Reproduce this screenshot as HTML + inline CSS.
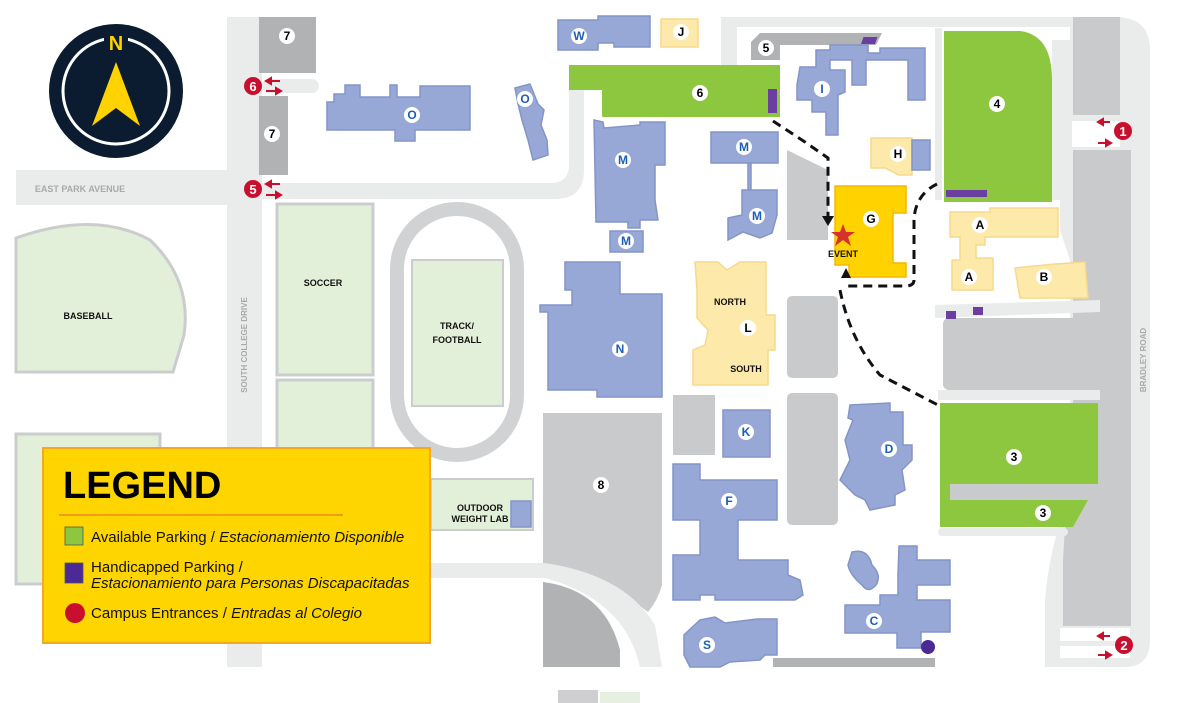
<!DOCTYPE html>
<html><head><meta charset="utf-8"><style>
html,body{margin:0;padding:0;background:#fff;}
svg{display:block;}
.lb{font-family:"Liberation Sans",sans-serif;font-weight:bold;font-size:12px;text-anchor:middle;}
.bl{fill:#1b5fb5;}
.bk{fill:#000;}
.t{font-family:"Liberation Sans",sans-serif;font-weight:bold;font-size:9px;text-anchor:middle;fill:#111;}
.b{fill:#97a8d6;stroke:#8394c8;stroke-width:1.5;}
.y{fill:#fde9aa;stroke:#f6d98a;stroke-width:1.5;}
.pg{fill:#e3f0d9;stroke:#cbcccd;stroke-width:3;}
.gl{fill:#8dc63f;}
.gr{fill:#c9cacc;}
.dg{fill:#b1b2b4;}
.rd{fill:#eaebeb;}
.hp{fill:#6b3fa0;}
</style></head><body>
<svg width="1197" height="703" viewBox="0 0 1197 703" xmlns="http://www.w3.org/2000/svg">
<!-- roads -->
<rect class="rd" x="16" y="170" width="215" height="35"/>
<rect class="rd" x="227" y="17" width="35" height="650"/>
<path class="rd" d="M262,183 L550,183 Q569,183 569,165 L569,90 L584,90 L584,170 Q584,199 555,199 L262,199 Z"/>
<path class="rd" d="M721,17 L1115,17 Q1150,17 1150,50 L1150,640 Q1150,667 1125,667 L1045,667 L1045,600 Q1050,540 1070,500 L1070,27 L737,27 L737,110 L721,110 Z"/>
<path class="rd" d="M1052,40 L1070,40 L1070,260 L1060,230 L1060,200 L1052,200 Z"/>
<rect class="gr" x="1073" y="17" width="47" height="98"/>
<rect x="1072" y="121" width="48" height="26" fill="#fff"/>
<rect class="gr" x="1073" y="150" width="58" height="290"/>
<path class="gr" d="M1075,440 L1131,440 L1131,626 L1063,626 L1063,560 Q1066,500 1075,440 Z"/>
<rect x="1060" y="628" width="70" height="30" fill="#fff"/>
<rect class="rd" x="1060" y="641" width="60" height="5"/>
<rect class="rd" x="935" y="28" width="7" height="172"/>
<path class="rd" d="M935,305 L1100,300 L1100,312 L935,318 Z"/>
<rect class="rd" x="938" y="390" width="162" height="10"/>
<rect class="rd" x="938" y="528" width="130" height="8" rx="4"/>
<!-- left fields -->
<path class="pg" d="M16,238 Q95,210 150,240 Q192,280 184,335 L173,372 L16,372 Z"/>
<rect class="pg" x="16" y="434" width="144" height="150"/>
<rect class="pg" x="277" y="204" width="96" height="171"/>
<rect class="pg" x="277" y="380" width="96" height="80"/>
<rect x="397" y="209" width="120" height="246" rx="60" fill="none" stroke="#d1d2d4" stroke-width="14"/>
<rect class="pg" x="412" y="260" width="91" height="146" style="stroke-width:2"/>
<rect class="pg" x="431" y="479" width="102" height="51" style="stroke-width:2"/>
<rect class="b" x="511" y="501" width="20" height="26"/>
<!-- lot 8 and lower -->
<path class="gr" d="M543,413 L662,413 L662,585 Q658,600 648,612 Q600,575 543,570 Z"/>
<path class="rd" d="M430,563 L545,563 Q625,575 655,625 L662,667 L640,667 Q625,600 545,578 L430,578 Z"/>
<path class="dg" d="M543,582 Q605,590 620,650 L620,667 L543,667 Z"/>
<!-- gray lots center -->
<path class="gr" d="M787,150 L828,170 L828,240 L787,240 Z"/>
<rect class="gr" x="787" y="296" width="51" height="82" rx="5"/>
<rect class="gr" x="787" y="393" width="51" height="132" rx="5"/>
<rect class="gr" x="673" y="395" width="42" height="60"/>
<rect class="gr" x="943" y="318" width="157" height="72" rx="6"/>
<rect x="773" y="658" width="162" height="9" class="dg"/>
<!-- lot 7 / 5 -->
<rect class="dg" x="259" y="17" width="57" height="56"/>
<rect class="rd" x="262" y="79" width="57" height="14" rx="7"/>
<rect class="dg" x="259" y="96" width="29" height="79"/>
<path class="dg" d="M760,33 L882,33 L876,45 L780,45 L780,60 L751,60 L751,42 Z"/>
<rect class="hp" x="863" y="37" width="14" height="7" transform="skewX(-20) translate(14,0)"/>
<!-- green lots -->
<path class="gl" d="M569,65 L780,65 L780,117 L602,117 L602,90 L569,90 Z"/>
<rect class="hp" x="768" y="89" width="9" height="24"/>
<path class="gl" d="M944,31 L1020,31 Q1052,35 1052,80 L1052,202 L944,202 Z"/>
<rect class="hp" x="946" y="190" width="41" height="7"/>
<path class="gl" d="M940,403 L1098,403 L1098,484 L950,484 L950,500 L1088,500 L1073,527 L940,527 Z"/>
<rect class="gr" x="950" y="484" width="138" height="16"/>
<rect class="hp" x="946" y="311" width="10" height="8"/>
<rect class="hp" x="973" y="307" width="10" height="8"/>
<!-- buildings -->
<path class="b" d="M558,20 L598,20 L598,16 L650,16 L650,47 L614,47 L614,43 L598,43 L598,50 L558,50 Z"/>
<rect class="y" x="661" y="19" width="37" height="28"/>
<path class="b" d="M327,102 L334,102 L334,94 L345,94 L345,85 L360,85 L360,97 L390,97 L390,85 L397,85 L397,97 L420,97 L420,86 L470,86 L470,130 L415,130 L415,141 L395,141 L395,130 L327,130 Z"/>
<path class="b" d="M515,88 L530,84 L538,104 L544,110 L541,125 L547,140 L548,155 L533,160 L528,140 L522,120 L518,104 Z"/>
<path class="b" d="M797,85 L800,67 L816,67 L816,50 L830,50 L830,45 L868,45 L868,53 L880,53 L880,48 L925,48 L925,100 L908,100 L908,60 L866,60 L866,85 L852,85 L852,60 L830,60 L830,70 L845,70 L845,92 L838,95 L838,135 L826,135 L826,112 L812,112 L812,100 L797,100 Z"/>
<path class="b" d="M594,120 L603,122 L604,128 L640,125 L640,122 L665,122 L665,165 L655,165 L655,200 L658,220 L640,220 L640,228 L628,228 L628,222 L596,222 Z"/>
<rect class="b" x="711" y="132" width="67" height="31"/>
<rect class="b" x="748" y="163" width="3" height="28"/>
<path class="b" d="M742,190 L777,190 L777,215 L772,233 L760,238 L743,232 L728,240 L728,218 L742,215 Z"/>
<rect class="b" x="610" y="231" width="33" height="21"/>
<path class="y" d="M871,138 L912,138 L912,175 L899,175 L885,168 L871,168 Z"/>
<rect class="b" x="912" y="140" width="18" height="30"/>
<path d="M835,186 L906,186 L906,213 L893,213 L893,263 L906,263 L906,277 L849,277 L849,265 L835,265 Z" fill="#ffd200" stroke="#f3b700" stroke-width="1.5"/>
<path class="y" d="M950,212 L990,212 L990,208 L1058,208 L1058,237 L985,237 L985,245 L976,245 L976,258 L993,258 L993,290 L952,290 L952,260 L960,260 L960,237 L950,237 Z"/>
<path class="y" d="M1015,268 L1055,264 L1085,262 L1088,298 L1020,298 Z"/>
<path class="b" d="M565,262 L620,262 L620,294 L662,294 L662,397 L597,397 L597,390 L548,390 L548,312 L540,312 L540,305 L572,305 L572,290 L565,290 Z"/>
<path class="y" d="M695,262 L718,262 L727,270 L740,262 L766,262 L766,315 L775,315 L775,350 L768,350 L768,385 L693,385 L693,350 L705,345 L708,330 L697,318 L697,290 Z"/>
<path class="b" d="M723,410 L770,410 L770,457 L723,457 Z"/>
<path class="b" d="M850,405 L890,403 L890,412 L903,412 L903,445 L912,445 L912,460 L902,470 L905,490 L895,495 L895,505 L870,510 L865,500 L855,495 L840,480 L850,460 L845,440 L853,420 L848,418 Z"/>
<path class="b" d="M673,464 L700,464 L700,480 L777,480 L777,520 L738,520 L738,560 L788,560 L788,575 L800,580 L803,595 L795,600 L715,600 L715,595 L700,595 L700,600 L673,600 L673,555 L700,555 L700,520 L673,520 Z"/>
<path class="b" d="M700,620 L715,617 L725,623 L757,619 L777,619 L777,655 L765,655 L760,660 L730,662 L720,667 L690,667 L684,655 L684,635 Z"/>
<path class="b" d="M899,546 L917,546 L917,560 L950,560 L950,585 L917,585 L917,600 L950,600 L950,632 L921,632 L921,648 L897,648 L897,633 L845,633 L845,605 L880,605 L880,595 L898,595 L898,575 Z"/>
<path class="b" d="M852,552 Q868,548 872,565 Q882,575 876,585 Q868,594 862,585 Q850,575 848,565 Z"/>
<circle cx="928" cy="647" r="7" fill="#4b2a96"/>
<!-- dashed paths -->
<g fill="none" stroke="#111" stroke-width="3" stroke-dasharray="9,6">
<path d="M773,121 L805,142 L828,158 L828,218"/>
<path d="M937,184 Q915,195 914,220 L914,280 Q914,286 905,286 L848,286"/>
<path d="M840,290 Q850,340 880,375 L938,405"/>
</g>
<path d="M822,216 L834,216 L828,226 Z" fill="#111"/>
<path d="M833,276 L843,276 L838,266 Z" fill="#111" transform="translate(8,2)"/>
<polygon points="843,224 846,232 855,232 848,237 851,246 843,240 835,246 838,237 831,232 840,232" fill="#d7312e"/>
<text x="843" y="257" class="t">EVENT</text>
<!-- compass -->
<circle cx="116" cy="91" r="67" fill="#0b1c30"/>
<circle cx="116" cy="91" r="53" fill="none" stroke="#fff" stroke-width="3"/>
<rect x="104" y="30" width="24" height="16" fill="#0b1c30"/>
<text x="116" y="50" font-family="Liberation Sans,sans-serif" font-weight="bold" font-size="20" fill="#ffd200" text-anchor="middle">N</text>
<polygon points="116,62 140,126 116,108 92,126" fill="#ffd200"/>
<!-- labels -->
<g>
<circle cx="287" cy="36" r="8" fill="#fff"/><text x="287" y="40" class="lb bk">7</text>
<circle cx="272" cy="134" r="8" fill="#fff"/><text x="272" y="138" class="lb bk">7</text>
<circle cx="766" cy="48" r="8" fill="#fff"/><text x="766" y="52" class="lb bk">5</text>
<circle cx="700" cy="93" r="8" fill="#fff"/><text x="700" y="97" class="lb bk">6</text>
<circle cx="997" cy="104" r="8" fill="#fff"/><text x="997" y="108" class="lb bk">4</text>
<circle cx="1014" cy="457" r="8" fill="#fff"/><text x="1014" y="461" class="lb bk">3</text>
<circle cx="1043" cy="513" r="8" fill="#fff"/><text x="1043" y="517" class="lb bk">3</text>
<circle cx="601" cy="485" r="8" fill="#fff"/><text x="601" y="489" class="lb bk">8</text>
<circle cx="681" cy="32" r="8" fill="#fff"/><text x="681" y="36" class="lb bk">J</text>
<circle cx="898" cy="154" r="8" fill="#fff"/><text x="898" y="158" class="lb bk">H</text>
<circle cx="871" cy="219" r="8" fill="#fff"/><text x="871" y="223" class="lb bk">G</text>
<circle cx="980" cy="225" r="8" fill="#fff"/><text x="980" y="229" class="lb bk">A</text>
<circle cx="969" cy="277" r="8" fill="#fff"/><text x="969" y="281" class="lb bk">A</text>
<circle cx="1044" cy="277" r="8" fill="#fff"/><text x="1044" y="281" class="lb bk">B</text>
<circle cx="748" cy="328" r="8" fill="#fff"/><text x="748" y="332" class="lb bk">L</text>
<circle cx="579" cy="36" r="8" fill="#fff"/><text x="579" y="40" class="lb bl">W</text>
<circle cx="412" cy="115" r="8" fill="#fff"/><text x="412" y="119" class="lb bl">O</text>
<circle cx="525" cy="99" r="8" fill="#fff"/><text x="525" y="103" class="lb bl">O</text>
<circle cx="822" cy="89" r="8" fill="#fff"/><text x="822" y="93" class="lb bl">I</text>
<circle cx="623" cy="160" r="8" fill="#fff"/><text x="623" y="164" class="lb bl">M</text>
<circle cx="744" cy="147" r="8" fill="#fff"/><text x="744" y="151" class="lb bl">M</text>
<circle cx="757" cy="216" r="8" fill="#fff"/><text x="757" y="220" class="lb bl">M</text>
<circle cx="626" cy="241" r="8" fill="#fff"/><text x="626" y="245" class="lb bl">M</text>
<circle cx="620" cy="349" r="8" fill="#fff"/><text x="620" y="353" class="lb bl">N</text>
<circle cx="746" cy="432" r="8" fill="#fff"/><text x="746" y="436" class="lb bl">K</text>
<circle cx="889" cy="449" r="8" fill="#fff"/><text x="889" y="453" class="lb bl">D</text>
<circle cx="729" cy="501" r="8" fill="#fff"/><text x="729" y="505" class="lb bl">F</text>
<circle cx="707" cy="645" r="8" fill="#fff"/><text x="707" y="649" class="lb bl">S</text>
<circle cx="874" cy="621" r="8" fill="#fff"/><text x="874" y="625" class="lb bl">C</text>
</g>
<text x="730" y="305" class="t">NORTH</text>
<text x="746" y="372" class="t">SOUTH</text>
<text x="88" y="319" class="t">BASEBALL</text>
<text x="323" y="286" class="t">SOCCER</text>
<text x="457" y="329" class="t">TRACK/</text>
<text x="457" y="343" class="t">FOOTBALL</text>
<text x="480" y="511" class="t">OUTDOOR</text>
<text x="480" y="522" class="t">WEIGHT LAB</text>
<text x="80" y="192" font-family="Liberation Sans,sans-serif" font-size="9" font-weight="bold" fill="#a7a9ab" text-anchor="middle">EAST PARK AVENUE</text>
<text transform="translate(247,345) rotate(-90)" font-family="Liberation Sans,sans-serif" font-size="8" font-weight="bold" fill="#a7a9ab" text-anchor="middle">SOUTH COLLEGE DRIVE</text>
<text transform="translate(1146,360) rotate(-90)" font-family="Liberation Sans,sans-serif" font-size="8" font-weight="bold" fill="#a7a9ab" text-anchor="middle">BRADLEY ROAD</text>
<!-- entrances -->
<g font-family="Liberation Sans,sans-serif" font-weight="bold" font-size="13" fill="#fff" text-anchor="middle">
<circle cx="253" cy="86" r="9" fill="#c8102e"/><text x="253" y="91">6</text>
<circle cx="253" cy="189" r="9" fill="#c8102e"/><text x="253" y="194">5</text>
<circle cx="1123" cy="131" r="9" fill="#c8102e"/><text x="1123" y="136">1</text>
<circle cx="1124" cy="645" r="9" fill="#c8102e"/><text x="1124" y="650">2</text>
</g>
<g stroke="#c8102e" stroke-width="2" fill="#c8102e">
<path d="M268,81 L280,81"/><path d="M266,81 L271,78 L271,84 Z"/>
<path d="M266,91 L278,91"/><path d="M281,91 L276,88 L276,94 Z"/>
<path d="M268,184 L280,184"/><path d="M266,184 L271,181 L271,187 Z"/>
<path d="M266,195 L278,195"/><path d="M281,195 L276,192 L276,198 Z"/>
<path d="M1100,122 L1110,122"/><path d="M1098,122 L1103,119 L1103,125 Z"/>
<path d="M1098,143 L1108,143"/><path d="M1111,143 L1106,140 L1106,146 Z"/>
<path d="M1100,636 L1110,636"/><path d="M1098,636 L1103,633 L1103,639 Z"/>
<path d="M1098,655 L1108,655"/><path d="M1111,655 L1106,652 L1106,658 Z"/>
</g>
<!-- legend -->
<rect x="43" y="448" width="387" height="195" fill="#ffd500" stroke="#f5a623" stroke-width="2"/>
<text x="63" y="498" font-family="Liberation Sans,sans-serif" font-weight="bold" font-size="38" fill="#000">LEGEND</text>
<rect x="59" y="514" width="284" height="2" fill="#f39a1e"/>
<rect x="65" y="527" width="18" height="18" fill="#8dc63f" stroke="#555" stroke-width="0.8"/>
<rect x="65" y="563" width="18" height="20" fill="#4b2a96" stroke="#555" stroke-width="0.8"/>
<circle cx="75" cy="613" r="10" fill="#c8102e"/>
<g font-family="Liberation Sans,sans-serif" font-size="15" fill="#111">
<text x="91" y="542">Available Parking / <tspan font-style="italic">Estacionamiento Disponible</tspan></text>
<text x="91" y="572">Handicapped Parking /</text>
<text x="91" y="588" font-style="italic">Estacionamiento para Personas Discapacitadas</text>
<text x="91" y="618">Campus Entrances / <tspan font-style="italic">Entradas al Colegio</tspan></text>
</g>
<rect x="558" y="690" width="40" height="13" fill="#cfcfd2"/>
<rect x="600" y="692" width="40" height="11" fill="#e6efe0"/>
</svg>
</body></html>
